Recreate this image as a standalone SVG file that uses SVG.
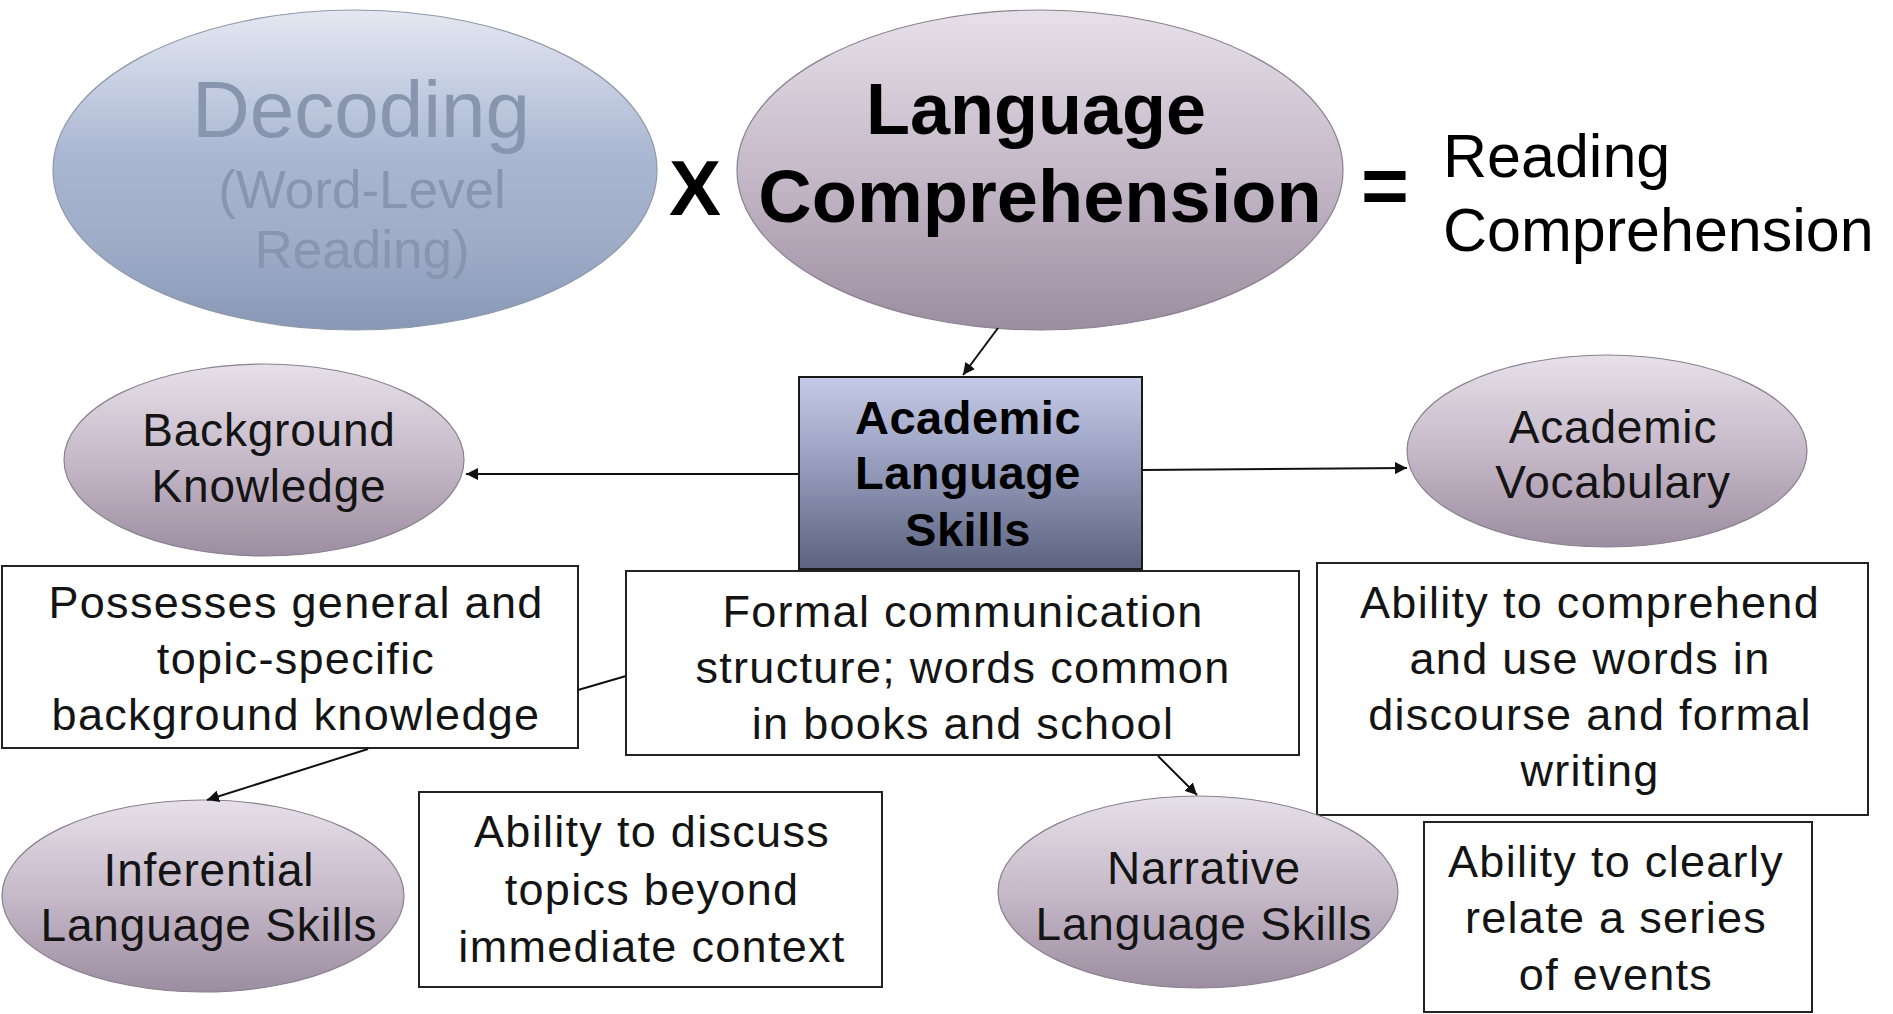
<svg xmlns="http://www.w3.org/2000/svg" width="1893" height="1014" viewBox="0 0 1893 1014">
<defs>
<linearGradient id="gPurple" x1="0" y1="0" x2="0" y2="1">
<stop offset="0" stop-color="#e6e0e9"/>
<stop offset="0.5" stop-color="#c6b9c9"/>
<stop offset="1" stop-color="#9c8da0"/>
</linearGradient>
<linearGradient id="gBlue" x1="0" y1="0" x2="0" y2="1">
<stop offset="0" stop-color="#e4e8f2"/>
<stop offset="0.45" stop-color="#aab7d2"/>
<stop offset="0.75" stop-color="#9dabc7"/>
<stop offset="1" stop-color="#8798b6"/>
</linearGradient>
<linearGradient id="gBox" x1="0" y1="0" x2="0" y2="1">
<stop offset="0" stop-color="#c6cae8"/>
<stop offset="0.5" stop-color="#9299b8"/>
<stop offset="1" stop-color="#5c6380"/>
</linearGradient>
<marker id="arr" viewBox="0 0 10 10" refX="10" refY="5" markerWidth="6" markerHeight="6" orient="auto" markerUnits="strokeWidth">
<path d="M0,0 L10,5 L0,10 z" fill="#111"/>
</marker>
</defs>
<style>
text{font-family:"Liberation Sans",Arial,sans-serif;text-anchor:middle;fill:#141414}
.ell{fill:url(#gPurple);stroke:#8a8090;stroke-width:1.2}
.box{fill:#fff;stroke:#222;stroke-width:2}
.t46{font-size:46px;letter-spacing:0.8px}
.t44{font-size:45px;letter-spacing:1.3px}
.dec{fill:#8895ae}
.conn line{stroke:#111;stroke-width:2}
</style>
<rect width="1893" height="1014" fill="#fff"/>

<g id="decoding">
<ellipse cx="355" cy="170" rx="302" ry="160" fill="url(#gBlue)" stroke="#8f98a8" stroke-width="1.2"/>
<text x="361" y="137" font-size="80" class="dec">Decoding</text>
<text x="362" y="208" font-size="53" class="dec">(Word-Level</text>
<text x="362" y="268" font-size="53" class="dec">Reading)</text>
</g>

<g id="times">
<text x="695" y="215" font-size="78" font-weight="bold" style="fill:#000">X</text>
</g>

<g id="language-comprehension">
<ellipse cx="1040" cy="170" rx="303" ry="160" class="ell"/>
<text x="1036" y="134" font-size="72" font-weight="bold" style="fill:#000">Language</text>
<text x="1040" y="222" font-size="74" font-weight="bold" style="fill:#000">Comprehension</text>
</g>

<g id="equals">
<text x="1385" y="214" font-size="82" font-weight="bold" style="fill:#000">=</text>
</g>

<g id="reading-comprehension">
<text x="1443" y="177" font-size="61" style="text-anchor:start;fill:#000">Reading</text>
<text x="1443" y="251" font-size="61" style="text-anchor:start;fill:#000">Comprehension</text>
</g>

<g id="academic-language-skills">
<rect x="799" y="377" width="343" height="192" fill="url(#gBox)" stroke="#1a1a1a" stroke-width="2"/>
<text x="968" y="434" font-size="47" font-weight="bold" style="fill:#000;letter-spacing:0.5px">Academic</text>
<text x="968" y="489" font-size="47" font-weight="bold" style="fill:#000;letter-spacing:0.5px">Language</text>
<text x="968" y="546" font-size="47" font-weight="bold" style="fill:#000;letter-spacing:0.5px">Skills</text>
</g>

<g id="background-knowledge">
<ellipse cx="264" cy="460" rx="200" ry="96" class="ell"/>
<text x="269" y="446" class="t46">Background</text>
<text x="269" y="502" class="t46">Knowledge</text>
</g>

<g id="academic-vocabulary">
<ellipse cx="1607" cy="451" rx="200" ry="96" class="ell"/>
<text x="1613" y="443" class="t46">Academic</text>
<text x="1613" y="498" class="t46">Vocabulary</text>
</g>

<g id="possesses-box">
<rect x="2" y="566" width="576" height="182" class="box"/>
<text x="296" y="618" class="t44">Possesses general and</text>
<text x="296" y="674" class="t44">topic-specific</text>
<text x="296" y="730" class="t44">background knowledge</text>
</g>

<g id="formal-box">
<rect x="626" y="571" width="673" height="184" class="box"/>
<text x="963" y="627" class="t44">Formal communication</text>
<text x="963" y="683" class="t44">structure; words common</text>
<text x="963" y="739" class="t44">in books and school</text>
</g>

<g id="comprehend-box">
<rect x="1317" y="563" width="551" height="252" class="box"/>
<text x="1590" y="618" class="t44">Ability to comprehend</text>
<text x="1590" y="674" class="t44">and use words in</text>
<text x="1590" y="730" class="t44">discourse and formal</text>
<text x="1590" y="786" class="t44">writing</text>
</g>

<g id="inferential">
<ellipse cx="203" cy="896" rx="201" ry="96" class="ell"/>
<text x="209" y="886" class="t46">Inferential</text>
<text x="209" y="941" class="t46">Language Skills</text>
</g>

<g id="discuss-box">
<rect x="419" y="792" width="463" height="195" class="box"/>
<text x="652" y="847" class="t44">Ability to discuss</text>
<text x="652" y="905" class="t44">topics beyond</text>
<text x="652" y="962" class="t44">immediate context</text>
</g>

<g id="narrative">
<ellipse cx="1198" cy="892" rx="200" ry="96" class="ell"/>
<text x="1204" y="884" class="t46">Narrative</text>
<text x="1204" y="940" class="t46">Language Skills</text>
</g>

<g id="clearly-box">
<rect x="1424" y="822" width="388" height="190" class="box"/>
<text x="1616" y="877" class="t44">Ability to clearly</text>
<text x="1616" y="933" class="t44">relate a series</text>
<text x="1616" y="990" class="t44">of events</text>
</g>

<g id="connectors" class="conn">
<line x1="998" y1="328" x2="963" y2="375" marker-end="url(#arr)"/>
<line x1="799" y1="474" x2="466" y2="474" marker-end="url(#arr)"/>
<line x1="1142" y1="470" x2="1407" y2="468" marker-end="url(#arr)"/>
<line x1="626" y1="676" x2="578" y2="690"/>
<line x1="368" y1="749" x2="207" y2="800" marker-end="url(#arr)"/>
<line x1="1158" y1="756" x2="1197" y2="795" marker-end="url(#arr)"/>
</g>
</svg>
